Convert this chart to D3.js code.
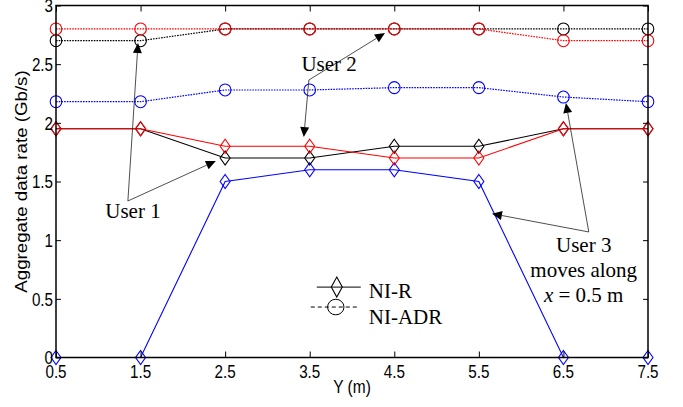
<!DOCTYPE html>
<html>
<head>
<meta charset="utf-8">
<script src="https://cdn.jsdelivr.net/npm/d3@7"></script>
<style>
  html, body { margin: 0; padding: 0; background: #fff; }
  svg { display: block; }
</style>
</head>
<body>
<svg id="chart" width="683" height="407"></svg>
<script>
// ---- data ----
const yPositions = [0.5, 1.5, 2.5, 3.5, 4.5, 5.5, 6.5, 7.5];
const xTickLabels = ["0.5", "1.5", "2.5", "3.5", "4.5", "5.5", "6.5", "7.5"];
const yTicks = [0, 0.5, 1, 1.5, 2, 2.5, 3];
const yTickLabels = ["0", "0.5", "1", "1.5", "2", "2.5", "3"];

// NI-R (solid, diamonds)
const niR_user1 = [1.95, 1.95, 1.70, 1.70, 1.80, 1.80, 1.95, 1.95]; // black
const niR_user2 = [1.95, 1.95, 1.80, 1.80, 1.70, 1.70, 1.95, 1.95]; // red
const niR_user3 = [0.00, 0.00, 1.50, 1.60, 1.60, 1.50, 0.00, 0.00]; // blue
// NI-ADR (dotted, circles)
const adr_user1 = [2.70, 2.70, 2.80, 2.80, 2.80, 2.80, 2.80, 2.80]; // black
const adr_user2 = [2.80, 2.80, 2.80, 2.80, 2.80, 2.80, 2.70, 2.70]; // red
const adr_user3 = [2.18, 2.18, 2.28, 2.28, 2.30, 2.30, 2.22, 2.18]; // blue

const legendLabels = ["NI-R", "NI-ADR"];
const xLabel = "Y (m)";
const yLabel = "Aggregate data rate (Gb/s)";

// annotations (data coordinates)
const annotations = [
  { lines: ["User 1"], at: [1.41, 1.19], from: [1.35, 1.334], tips: [[1.47, 2.68], [2.39, 1.675]] },
  { lines: ["User 2"], at: [3.73, 2.445], from: [3.49, 2.365], tips: [[4.39, 2.765], [3.43, 1.879]] },
  { lines: ["User 3", "moves along", "x = 0.5 m"], at: [6.74, 0.898], from: [6.80, 1.07], tips: [[5.655, 1.226], [6.53, 2.17]] }
];

// ---- layout ----
const svg = d3.select("#chart");
const W = 683, H = 407;
const mLeft = 56, mRight = 648, mTop = 5.5, mBottom = 357.5;

const x = d3.scaleLinear().domain([0.5, 7.5]).range([mLeft, mRight]);
const y = d3.scaleLinear().domain([0, 3]).range([mBottom, mTop]);

svg.append("rect").attr("width", W).attr("height", H).attr("fill", "#fff");

const sansFont = "Arial, 'Liberation Sans', Helvetica, sans-serif";
const serifFont = "'Times New Roman', 'Liberation Serif', Times, serif";

// ---- series ----
const series = [
  { vals: niR_user3, color: "#0000ff", type: "R" },
  { vals: adr_user3, color: "#0000ff", type: "ADR" },
  { vals: niR_user1, color: "#000000", type: "R" },
  { vals: adr_user1, color: "#000000", type: "ADR" },
  { vals: niR_user2, color: "#ff0000", type: "R" },
  { vals: adr_user2, color: "#ff0000", type: "ADR" }
];

const line = d3.line().x(d => x(d[0])).y(d => y(d[1]));

function diamond(g, cx, cy, w, h, color) {
  g.append("path")
    .attr("d", `M${cx},${cy - h / 2}L${cx + w / 2},${cy}L${cx},${cy + h / 2}L${cx - w / 2},${cy}Z`)
    .attr("fill", "none").attr("stroke", color).attr("stroke-width", 1.1);
}

const gSeries = svg.append("g");
series.forEach(s => {
  const pts = yPositions.map((p, i) => [p, s.vals[i]]);
  gSeries.append("path")
    .attr("d", line(pts))
    .attr("fill", "none")
    .attr("stroke", s.color)
    .attr("stroke-width", s.type === "R" ? 1.1 : 1.2)
    .attr("stroke-dasharray", s.type === "R" ? null : "1.6,1.1");
});
series.forEach(s => {
  const pts = yPositions.map((p, i) => [p, s.vals[i]]);
  pts.forEach(d => {
    if (s.type === "R") {
      diamond(gSeries, x(d[0]), y(d[1]), 10, 14, s.color);
    } else {
      gSeries.append("ellipse")
        .attr("cx", x(d[0])).attr("cy", y(d[1]))
        .attr("rx", 5.8).attr("ry", 6)
        .attr("fill", "none").attr("stroke", s.color).attr("stroke-width", 1.1);
    }
  });
});

// ---- axes frame ----
const gAxes = svg.append("g");
gAxes.append("rect")
  .attr("x", mLeft).attr("y", mTop)
  .attr("width", mRight - mLeft).attr("height", mBottom - mTop)
  .attr("fill", "none").attr("stroke", "#000").attr("stroke-width", 1.5);

const xAxisB = d3.axisBottom(x).tickValues(yPositions).tickSize(-6).tickFormat("");
const xAxisT = d3.axisTop(x).tickValues(yPositions).tickSize(-6).tickFormat("");
const yAxisL = d3.axisLeft(y).tickValues(yTicks).tickSize(-5).tickFormat("");
const yAxisR = d3.axisRight(y).tickValues(yTicks).tickSize(-5).tickFormat("");

[[xAxisB, `translate(0,${mBottom})`], [xAxisT, `translate(0,${mTop})`],
 [yAxisL, `translate(${mLeft},0)`], [yAxisR, `translate(${mRight},0)`]].forEach(([ax, tr]) => {
  const g = gAxes.append("g").attr("transform", tr).call(ax);
  g.select(".domain").remove();
  g.selectAll(".tick line").attr("stroke", "#000").attr("stroke-width", 1);
});

// tick labels (narrow glyphs)
const sx = 0.8;
yPositions.forEach((p, i) => {
  svg.append("text")
    .attr("transform", `translate(${x(p)},377.5) scale(${sx},1)`)
    .attr("text-anchor", "middle")
    .attr("font-family", sansFont).attr("font-size", 19)
    .attr("fill", "#000")
    .text(xTickLabels[i]);
});
yTicks.forEach((t, i) => {
  svg.append("text")
    .attr("transform", `translate(${mLeft - 3},${y(t) + 6.8}) scale(${sx},1)`)
    .attr("text-anchor", "end")
    .attr("font-family", sansFont).attr("font-size", 19)
    .attr("fill", "#000")
    .text(yTickLabels[i]);
});

// axis labels
svg.append("text")
  .attr("transform", `translate(${(mLeft + mRight) / 2},393) scale(0.84,1)`)
  .attr("text-anchor", "middle")
  .attr("font-family", sansFont).attr("font-size", 18.5)
  .text(xLabel);
svg.append("text")
  .attr("transform", `translate(27,${(mTop + mBottom) / 2}) rotate(-90) scale(1,0.85)`)
  .attr("text-anchor", "middle")
  .attr("font-family", sansFont).attr("font-size", 18.7)
  .text(yLabel);

// ---- annotations ----
const gAnn = svg.append("g");
function arrow(x1, y1, x2, y2) {
  const ang = Math.atan2(y2 - y1, x2 - x1);
  const L = 10, Wd = 4.5;
  const bx = x2 - L * Math.cos(ang), by = y2 - L * Math.sin(ang);
  gAnn.append("line")
    .attr("x1", x1).attr("y1", y1).attr("x2", bx).attr("y2", by)
    .attr("stroke", "#222").attr("stroke-width", 0.8);
  const px = -Math.sin(ang) * Wd, py = Math.cos(ang) * Wd;
  gAnn.append("path")
    .attr("d", `M${x2},${y2}L${bx + px},${by + py}L${bx - px},${by - py}Z`)
    .attr("fill", "#000");
}
annotations.forEach(a => {
  const fx = x(a.from[0]), fy = y(a.from[1]);
  a.tips.forEach(t => arrow(fx, fy, x(t[0]), y(t[1])));
  const tx = x(a.at[0]), ty = y(a.at[1]);
  a.lines.forEach((ln, i) => {
    const t = gAnn.append("text")
      .attr("x", tx).attr("y", ty + i * 25)
      .attr("text-anchor", "middle")
      .attr("font-family", serifFont).attr("font-size", 21)
      .attr("fill", "#000");
    if (ln.startsWith("x =")) {
      t.append("tspan").attr("font-style", "italic").text("x");
      t.append("tspan").text(ln.slice(1));
    } else {
      t.text(ln);
    }
  });
});

// ---- legend ----
const gLeg = svg.append("g");
const legX = x(3.82), legY1 = y(0.6), legY2 = y(0.43);
gLeg.append("line").attr("x1", legX - 20).attr("x2", legX + 24)
  .attr("y1", legY1).attr("y2", legY1).attr("stroke", "#000").attr("stroke-width", 1);
diamond(gLeg, legX, legY1, 11, 20, "#000");
gLeg.append("line").attr("x1", legX - 26).attr("x2", legX + 20)
  .attr("y1", legY2).attr("y2", legY2).attr("stroke", "#000").attr("stroke-width", 1)
  .attr("stroke-dasharray", "4,3");
gLeg.append("ellipse").attr("cx", legX - 1).attr("cy", legY2)
  .attr("rx", 8.2).attr("ry", 7.8).attr("fill", "none").attr("stroke", "#000").attr("stroke-width", 1);
legendLabels.forEach((l, i) => {
  gLeg.append("text")
    .attr("x", legX + 32).attr("y", (i === 0 ? legY1 : legY2) + 11 + i * 6)
    .attr("font-family", serifFont).attr("font-size", 21)
    .text(l);
});
</script>
</body>
</html>
